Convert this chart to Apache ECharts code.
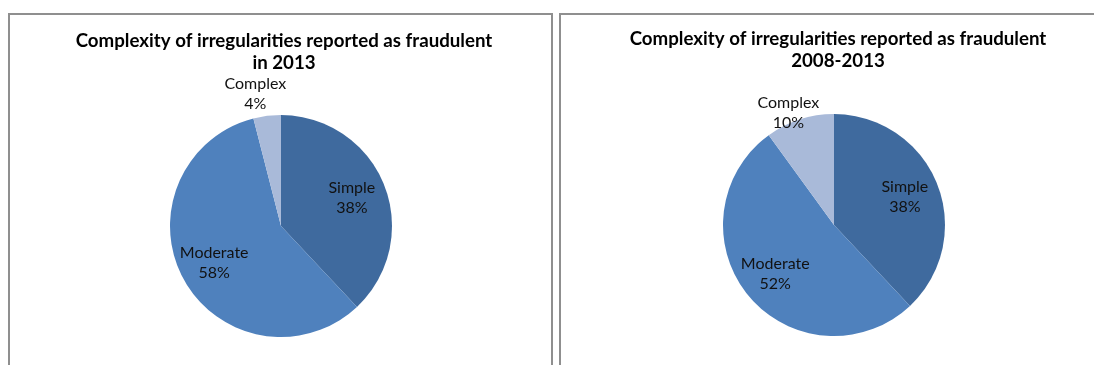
<!DOCTYPE html>
<html>
<head>
<meta charset="utf-8">
<script src="https://cdn.jsdelivr.net/npm/echarts@6/dist/echarts.min.js"></script>
<style>
html,body{margin:0;padding:0;background:#fff;}
#c{width:1094px;height:365px;}
</style>
</head>
<body>
<div id="c"></div>
<script>
const categories = ['Simple', 'Moderate', 'Complex'];
const values2013 = [38, 58, 4];
const values2008_2013 = [38, 52, 10];
const titles = ['Complexity of irregularities reported as fraudulent\nin 2013',
                'Complexity of irregularities reported as fraudulent\n2008-2013'];
const colors = ['#3F6A9E', '#4F81BD', '#A9BAD9'];

const R = 111;
const centers = [[281, 226], [834, 225]];
const labelFont = {fontFamily: 'Lato', fontSize: 16, color: '#111', lineHeight: 20};

function mainSeries(vals, center) {
  return {
    type: 'pie', center: center, radius: R, startAngle: 90, clockwise: true,
    silent: true, animation: false,
    label: {show: false}, labelLine: {show: false},
    itemStyle: {borderWidth: 0},
    data: categories.map((n, i) => ({name: n, value: vals[i], itemStyle: {color: colors[i]}}))
  };
}
function innerLabels(vals, center) {
  return {
    type: 'pie', center: center, radius: [R * 0.32, R], startAngle: 90, clockwise: true,
    silent: true, animation: false, z: 5,
    itemStyle: {color: 'rgba(0,0,0,0)', borderWidth: 0},
    labelLine: {show: false},
    data: categories.map((n, i) => ({
      name: n, value: vals[i],
      label: Object.assign({show: n !== 'Complex', position: 'inside', formatter: '{b}\n{c}%'}, labelFont)
    }))
  };
}
function outerLabels(vals, center, rIn, rOut) {
  return {
    type: 'pie', center: center, radius: [R * rIn, R * rOut], startAngle: 90, clockwise: true,
    silent: true, animation: false, z: 5,
    itemStyle: {color: 'rgba(0,0,0,0)', borderWidth: 0},
    labelLine: {show: false},
    data: categories.map((n, i) => ({
      name: n, value: vals[i],
      label: Object.assign({show: n === 'Complex', position: 'inside', formatter: '{b}\n{c}%', offset: [-9, 0]}, labelFont)
    }))
  };
}

const titleStyle = {fontFamily: 'Lato', fontWeight: 'bold', fontSize: 18.7, color: '#000', lineHeight: 22};

const chart = echarts.init(document.getElementById('c'), null, {renderer: 'canvas'});
chart.setOption({
  backgroundColor: '#fff',
  animation: false,
  graphic: [
    {type: 'rect', shape: {x: 9, y: 14, width: 543, height: 420}, style: {fill: 'none', stroke: '#8f8f8f', lineWidth: 2}},
    {type: 'rect', shape: {x: 560, y: 14, width: 600, height: 420}, style: {fill: 'none', stroke: '#8f8f8f', lineWidth: 2}}
  ],
  title: [
    {text: titles[0], left: 279, top: 25, textAlign: 'center', textStyle: titleStyle},
    {text: titles[1], left: 833, top: 23, textAlign: 'center', textStyle: titleStyle}
  ],
  series: [
    mainSeries(values2013, centers[0]),
    innerLabels(values2013, centers[0]),
    outerLabels(values2013, centers[0], 1.09, 1.25),
    mainSeries(values2008_2013, centers[1]),
    innerLabels(values2008_2013, centers[1]),
    outerLabels(values2008_2013, centers[1], 0.96, 1.12)
  ]
});
</script>
</body>
</html>
